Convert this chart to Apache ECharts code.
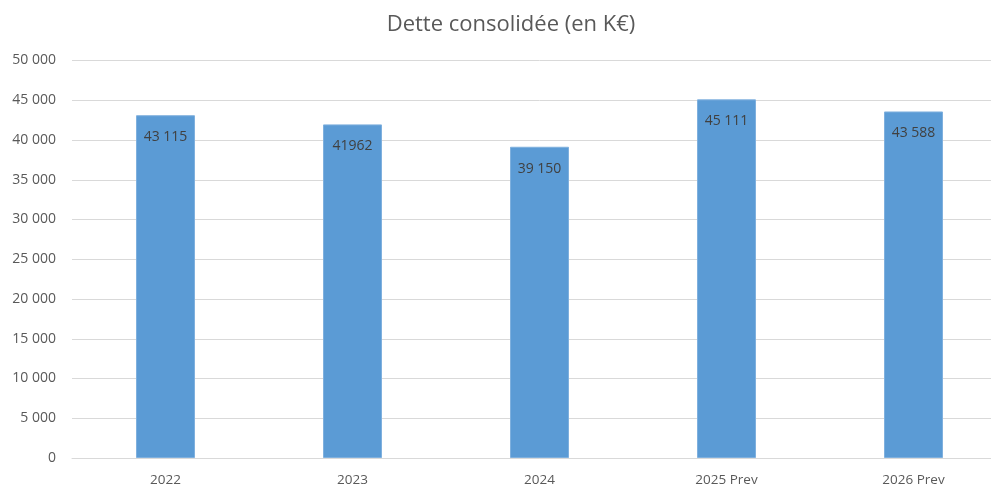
<!doctype html>
<html>
<head>
  <meta charset="UTF-8" />
  <title>Dette consolidée</title>
  <script src="https://cdn.jsdelivr.net/npm/echarts@6/dist/echarts.min.js"></script>
  <style>
    html, body { margin: 0; padding: 0; background: #fff; overflow: hidden; }
    #chart { width: 1007px; height: 484px; }
  </style>
</head>
<body>
  <div id="chart"></div>
  <script>
    const categories = ['2022', '2023', '2024', '2025 Prev', '2026 Prev'];
    const values = [43115, 41962, 39150, 45111, 43588];
    const labels = ['43 115', '41962', '39 150', '45 111', '43 588'];

    const fmt = v => String(v).replace(/\B(?=(\d{3})+(?!\d))/g, ' ');
    const font = "'Open Sans', 'Liberation Sans', sans-serif";

    // the plot area runs a little past the right edge of the window, like the original
    const chart = echarts.init(document.getElementById('chart'), null, { renderer: 'canvas' });
    chart.setOption({
      animation: false,
      title: {
        text: 'Dette consolidée (en K€)',
        left: 506,
        textAlign: 'center',
        top: 9,
        textStyle: { color: '#595959', fontSize: 22, fontWeight: 'normal', fontFamily: font }
      },
      grid: { left: 72, top: 60.5, width: 935, height: 397.5, containLabel: false, outerBoundsMode: 'none' },
      xAxis: {
        type: 'category',
        data: categories,
        axisLine: { lineStyle: { color: '#d9d9d9' } },
        axisTick: { show: false },
        axisLabel: { color: '#595959', fontSize: 13.5, margin: 15, fontFamily: font }
      },
      yAxis: {
        type: 'value',
        min: 0,
        max: 50000,
        interval: 5000,
        axisLine: { show: false },
        axisTick: { show: false },
        splitLine: { lineStyle: { color: '#d9d9d9' } },
        axisLabel: { color: '#595959', fontSize: 14, margin: 16, fontFamily: font, formatter: fmt }
      },
      series: [{
        type: 'bar',
        data: values,
        barWidth: 59,
        itemStyle: { color: '#5b9bd5', borderColor: '#7fb0de', borderWidth: 1 },
        label: {
          show: true,
          position: 'insideTop',
          distance: 15,
          color: '#404040',
          fontSize: 14,
          fontFamily: font,
          formatter: p => labels[p.dataIndex]
        }
      }]
    });
  </script>
</body>
</html>
